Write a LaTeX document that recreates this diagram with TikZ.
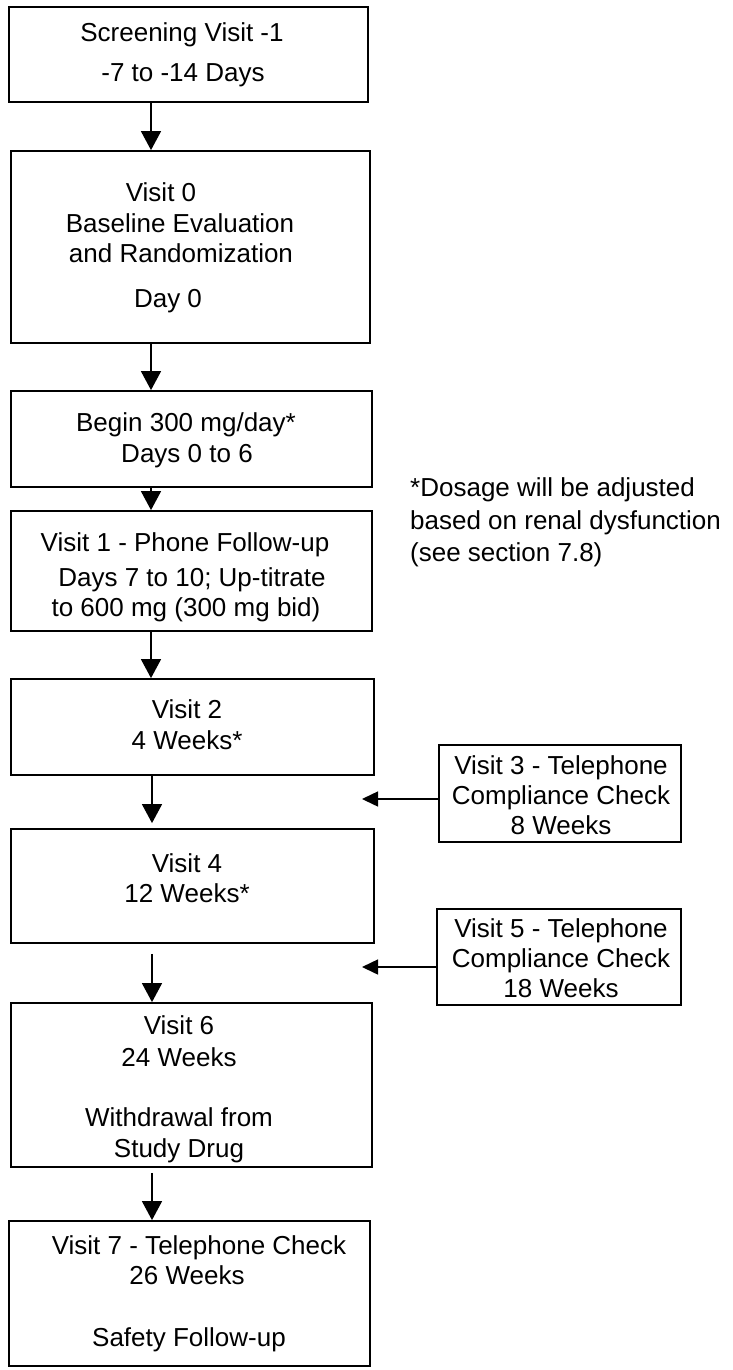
\documentclass[tikz,border=0pt]{standalone}
\usepackage{fontspec}
\setmainfont{Liberation Sans}
\usetikzlibrary{arrows.meta}
\begin{document}
\begin{tikzpicture}[x=1pt,y=-1pt,
  box/.style={draw,line width=1.8pt,rectangle,inner sep=0pt},
  txt/.style={inner sep=0pt,anchor=base,font=\fontsize{26}{31}\selectfont},
  note/.style={inner sep=0pt,anchor=base west,font=\fontsize{26}{31}\selectfont},
  varr/.style={line width=1.5pt,-{Triangle[length=19pt,width=20pt]}},
  harr/.style={line width=1.5pt,-{Triangle[length=16pt,width=15pt]}}]
\useasboundingbox (0,0) rectangle (732,1370);
% boxes
\node[box,minimum width=359pt,minimum height=95pt] (b1) at (188.5,54.5) {};
\node[box,minimum width=359pt,minimum height=192pt] (b2) at (190.5,247) {};
\node[box,minimum width=361pt,minimum height=96pt] (b3) at (191.5,439) {};
\node[box,minimum width=361pt,minimum height=120pt] (b4) at (191.5,571) {};
\node[box,minimum width=363pt,minimum height=96pt] (b5) at (192.5,727) {};
\node[box,minimum width=363pt,minimum height=114pt] (b6) at (192.5,886) {};
\node[box,minimum width=242pt,minimum height=97pt] (v3) at (560,793.5) {};
\node[box,minimum width=244pt,minimum height=96pt] (v5) at (559,957) {};
\node[box,minimum width=361pt,minimum height=164pt] (b7) at (191.5,1085) {};
\node[box,minimum width=361pt,minimum height=145pt] (b8) at (189.5,1293.5) {};
% texts
\node[txt] (t1a) at (182,42) {Screening Visit -1};
\node[txt] (t1b) at (183,82) {-7 to -14 Days};
\node[txt] (t2a) at (161,201) {Visit 0};
\node[txt] (t2b) at (180,232) {Baseline Evaluation};
\node[txt] (t2c) at (181,262) {and Randomization};
\node[txt] (t2d) at (168,307) {Day 0};
\node[txt] (t3a) at (186,431) {Begin 300 mg/day*};
\node[txt] (t3b) at (187,462) {Days 0 to 6};
\node[txt] (t4a) at (185,551) {Visit 1 - Phone Follow-up};
\node[txt] (t4b) at (192,586) {Days 7 to 10; Up-titrate};
\node[txt] (t4c) at (186,616) {to 600 mg (300 mg bid)};
\node[txt] (t5a) at (187,718) {Visit 2};
\node[txt] (t5b) at (187,749) {4 Weeks*};
\node[txt] (t6a) at (187,872) {Visit 4};
\node[txt] (t6b) at (187,902) {12 Weeks*};
\node[txt] (v3a) at (561,774) {Visit 3 - Telephone};
\node[txt] (v3b) at (561,804) {Compliance Check};
\node[txt] (v3c) at (561,834) {8 Weeks};
\node[txt] (v5a) at (561,937) {Visit 5 - Telephone};
\node[txt] (v5b) at (561,967) {Compliance Check};
\node[txt] (v5c) at (561,997) {18 Weeks};
\node[txt] (t7a) at (179,1034) {Visit 6};
\node[txt] (t7b) at (179,1066) {24 Weeks};
\node[txt] (t7c) at (179,1126) {Withdrawal from};
\node[txt] (t7d) at (179,1157) {Study Drug};
\node[txt] (t8a) at (199,1254) {Visit 7 - Telephone Check};
\node[txt] (t8b) at (187,1284) {26 Weeks};
\node[txt] (t8c) at (189,1346) {Safety Follow-up};
% footnote
\node[note] (n1) at (410,496) {*Dosage will be adjusted};
\node[note] (n2) at (410,529) {based on renal dysfunction};
\node[note] (n3) at (410,561) {(see section 7.8)};
% connectors
\coordinate (ax) at (151,0);
\coordinate (bx) at (152,0);
\draw[varr] (b1.south -| ax) -- (b2.north -| ax);
\draw[varr] (b2.south -| ax) -- (b3.north -| ax);
\draw[varr] (b3.south -| ax) -- (b4.north -| ax);
\draw[varr] (b4.south -| ax) -- (b5.north -| ax);
\draw[varr] (b5.south -| bx) -- ([yshift=5pt]b6.north -| bx);
\draw[varr] ([yshift=-10pt]b6.south -| bx) -- (b7.north -| bx);
\draw[varr] ([yshift=-5pt]b7.south -| bx) -- (b8.north -| bx);
\coordinate (h3) at (362,799);
\coordinate (h5) at (362,967);
\draw[harr] (v3.west |- h3) -- (h3);
\draw[harr] (v5.west |- h5) -- (h5);
\end{tikzpicture}
\end{document}
